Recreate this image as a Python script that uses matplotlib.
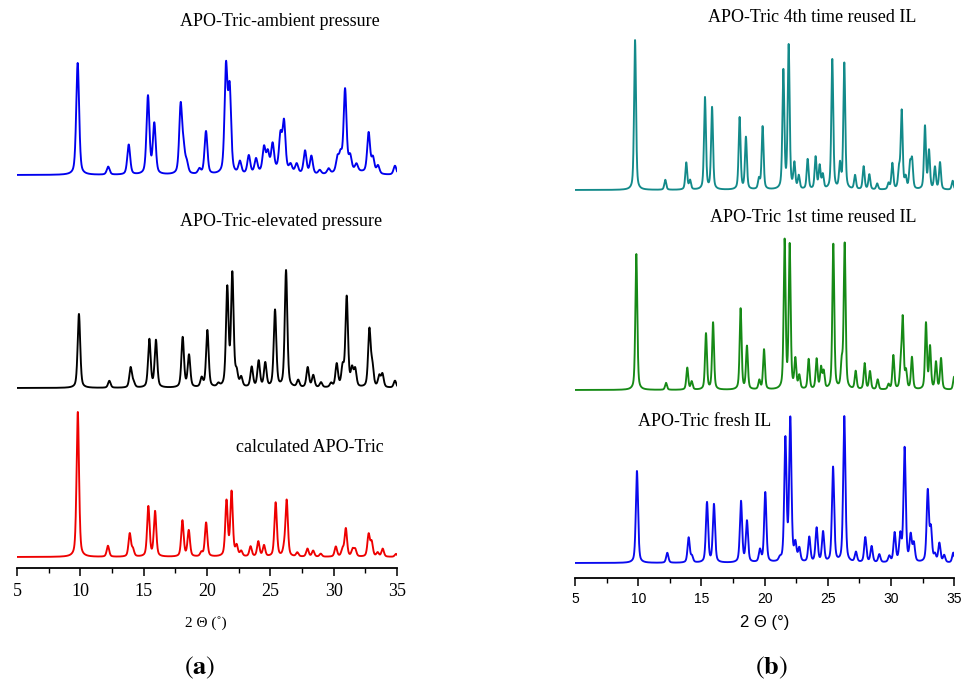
import numpy as np
import matplotlib
matplotlib.use("Agg")
import matplotlib.pyplot as plt
from matplotlib.ticker import MultipleLocator

# ---------------- data (peak positions in 2theta, peak heights, arbitrary units) ----------------
amb_pos = [9.79, 12.2, 13.82, 15.34, 15.84, 17.92, 18.15, 18.4, 19.4, 19.92, 21.5, 21.79, 22.6, 23.3,
           23.87, 24.5, 24.8, 25.18, 25.8, 26.08, 26.6, 27.08, 27.74, 28.24, 28.9, 29.6, 30.3, 30.55,
           30.9, 31.3, 31.8, 32.76, 33.1, 33.5, 34.84]
amb_h = [112, 8, 30, 78, 50, 68, 22, 10, 5, 43, 105, 82, 12, 18,
         14, 24, 18, 26, 34, 48, 7, 9, 23, 18, 4, 5, 14, 16,
         82, 14, 7, 40, 15, 8, 9]
amb_bg_pos = [25.5, 31.5]
amb_bg_h = [4, 3]

elev_pos = [9.89, 12.29, 13.97, 14.2, 15.45, 15.97, 18.08, 18.58, 19.58, 20.03, 20.9, 21.6, 22.0,
            22.34, 22.7, 23.53, 24.08, 24.6, 25.37, 26.24, 27.2, 27.95, 28.39, 29.0, 29.8, 30.24,
            30.71, 31.03, 31.45, 31.7, 32.82, 33.05, 33.6, 33.85, 34.84]
elev_h = [74, 7, 20, 5, 48, 47, 50, 32, 9, 57, 3, 98, 112,
          13, 9, 20, 26, 24, 77, 117, 7, 20, 12, 5, 4, 23,
          19, 90, 17, 17, 57, 20, 11, 13, 7]

calc_pos = [9.8, 12.18, 13.9, 14.15, 15.37, 15.9, 18.06, 18.56, 19.56, 19.93, 21.54, 21.94, 22.34,
            22.7, 23.44, 24.05, 24.5, 25.42, 26.08, 26.29, 27.13, 27.93, 28.38, 28.98, 30.17, 30.7,
            30.96, 31.5, 31.7, 32.76, 33.0, 33.47, 33.87, 34.92]
calc_h = [145, 11, 23, 7, 50, 45, 36, 26, 4, 34, 55, 64, 10,
          5, 10, 15, 11, 54, 6, 56, 4, 8, 6, 3, 10, 7,
          28, 7, 7, 22, 14, 4, 8, 3]

r4_pos = [9.75, 12.14, 13.8, 14.1, 15.28, 15.84, 18.02, 18.52, 19.55, 19.84, 21.48, 21.9, 22.35,
          22.7, 23.4, 24.03, 24.35, 24.6, 25.35, 25.96, 26.3, 27.15, 27.83, 28.28, 28.9, 29.8,
          30.1, 30.63, 30.84, 31.15, 31.5, 31.66, 32.68, 33.0, 33.47, 33.87, 34.87]
r4_h = [150, 10, 27, 9, 92, 82, 72, 52, 10, 63, 118, 143, 25,
        13, 30, 32, 23, 14, 130, 24, 126, 14, 23, 15, 6, 6,
        26, 19, 78, 11, 24, 28, 63, 38, 22, 27, 9]

r1_pos = [9.85, 12.2, 13.88, 14.23, 15.36, 15.92, 18.1, 18.6, 19.58, 19.95, 21.58, 21.98, 22.43,
          22.74, 23.48, 24.11, 24.46, 24.67, 25.43, 26.1, 26.33, 27.2, 27.91, 28.33, 28.94, 29.8,
          30.18, 30.76, 30.92, 31.18, 31.65, 32.76, 33.08, 33.55, 33.95, 34.98]
r1_h = [136, 7, 22, 8, 56, 67, 81, 43, 9, 40, 148, 143, 29,
        13, 30, 30, 21, 17, 145, 24, 145, 18, 26, 18, 10, 5,
        34, 20, 70, 17, 32, 66, 42, 27, 31, 13]

fr_pos = [9.9, 12.3, 13.99, 14.25, 15.44, 15.99, 18.13, 18.6, 19.63, 20.05, 21.2, 21.64, 22.03,
          22.43, 22.74, 23.53, 24.11, 24.62, 25.41, 26.3, 27.22, 27.96, 28.46, 29.07, 29.86, 30.28,
          30.73, 31.07, 31.55, 31.8, 32.9, 33.15, 33.47, 33.82, 34.2, 34.92]
fr_h = [92, 10, 25, 6, 60, 58, 61, 41, 12, 70, 3, 122, 142,
        17, 13, 25, 34, 30, 95, 146, 10, 25, 16, 8, 6, 29,
        26, 114, 26, 18, 71, 32, 7, 19, 7, 10]

x_ticks = [5, 10, 15, 20, 25, 30, 35]

# ---------------- helpers ----------------
W, H = 962, 682
tt = np.linspace(5, 35, 4001)


def pattern(pos, hts, fwhm, eta=0.45):
    y = np.zeros_like(tt)
    s = fwhm / 2.3548
    g = fwhm / 2.0
    for p, h in zip(pos, hts):
        gauss = np.exp(-0.5 * ((tt - p) / s) ** 2)
        lor = 1.0 / (1.0 + ((tt - p) / g) ** 2)
        y += h * ((1 - eta) * gauss + eta * lor)
    return y


def fx(px):
    return px / W


def fy(py):
    return 1 - py / H


plt.rcParams["mathtext.fontset"] = "stix"
fig = plt.figure(figsize=(W / 100, H / 100), dpi=100)
fig.patch.set_facecolor("white")

serif = ["Liberation Serif", "DejaVu Serif"]
sans = ["Liberation Sans", "DejaVu Sans"]


def setup_axes(left_px, right_px, axis_py, tick_family, tick_size, pad):
    ax = fig.add_axes([fx(left_px), fy(axis_py), (right_px - left_px) / W, axis_py / H])
    ax.set_xlim(5, 35)
    ax.set_ylim(0, axis_py)
    for s in ["top", "right", "left"]:
        ax.spines[s].set_visible(False)
    ax.spines["bottom"].set_linewidth(1.3)
    ax.set_yticks([])
    ax.xaxis.set_major_locator(MultipleLocator(5))
    ax.xaxis.set_minor_locator(MultipleLocator(2.5))
    ax.tick_params(axis="x", which="major", length=6, width=1.1, direction="out", pad=pad,
                   labelsize=tick_size)
    ax.tick_params(axis="x", which="minor", length=3.5, width=1.0, direction="out")
    ax.set_xticks(x_ticks)
    ax.set_xticklabels([str(v) for v in x_ticks], family=tick_family)
    ax.patch.set_alpha(0)
    return ax


# ---------------- panel (a) ----------------
axA = setup_axes(17, 397, 568, serif, 13, 5)
axA.plot(tt, 568 - 175 + pattern(amb_pos, amb_h, 0.27) + pattern(amb_bg_pos, amb_bg_h, 2.5, eta=0.0),
         color="#0000ee", lw=1.35)
axA.plot(tt, 568 - 388 + pattern(elev_pos, elev_h, 0.24), color="#000000", lw=1.35)
axA.plot(tt, 568 - 557 + pattern(calc_pos, calc_h, 0.23), color="#ee0000", lw=1.35)

fig.text(fx(280), fy(22), "APO-Tric-ambient pressure", family=serif, fontsize=13,
         ha="center", va="center")
fig.text(fx(281), fy(222), "APO-Tric-elevated pressure", family=serif, fontsize=13,
         ha="center", va="center")
fig.text(fx(310), fy(447), "calculated APO-Tric", family=serif, fontsize=13,
         ha="center", va="center")
fig.text(fx(206), fy(623), "2 \u0398 (\u02da)", family=serif, fontsize=11, ha="center", va="center")

# ---------------- panel (b) ----------------
axB = setup_axes(575, 954.3, 578, sans, 10, 4)
axB.plot(tt, 578 - 190 + pattern(r4_pos, r4_h, 0.18), color="#138a8a", lw=1.35)
axB.plot(tt, 578 - 390 + pattern(r1_pos, r1_h, 0.18), color="#168a16", lw=1.35)
axB.plot(tt, 578 - 563 + pattern(fr_pos, fr_h, 0.21), color="#0a0aee", lw=1.35)

fig.text(fx(812), fy(18), "APO-Tric 4th time reused IL", family=serif, fontsize=13,
         ha="center", va="center")
fig.text(fx(813), fy(218), "APO-Tric 1st time reused IL", family=serif, fontsize=13,
         ha="center", va="center")
fig.text(fx(705), fy(421), "APO-Tric fresh IL", family=serif, fontsize=13,
         ha="center", va="center")
fig.text(fx(765), fy(623), "2 \u0398 (\u00b0)", family=sans, fontsize=12, ha="center", va="center")

# ---------------- panel letters ----------------
fig.text(fx(200), fy(668), r"$(\mathbf{a})$", fontsize=19, ha="center", va="center")
fig.text(fx(771), fy(668), r"$(\mathbf{b})$", fontsize=19, ha="center", va="center")

fig.savefig("out.png", dpi=100, facecolor="white")
